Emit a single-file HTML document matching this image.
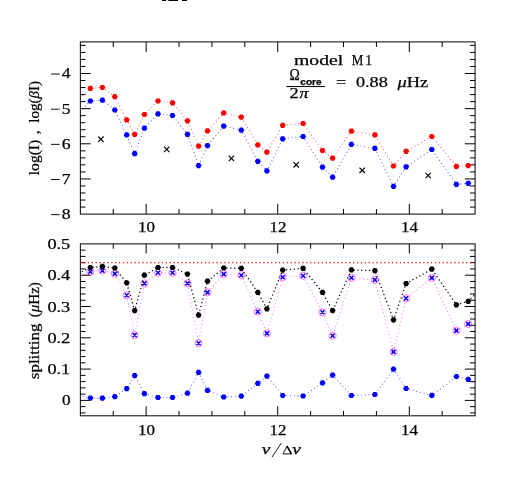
<!DOCTYPE html>
<html><head><meta charset="utf-8"><title>plot</title>
<style>html,body{margin:0;padding:0;background:#fff;}svg{display:block;}text{font-family:"Liberation Serif",serif;fill:#000;}</style></head><body>
<svg width="518" height="491" viewBox="0 0 518 491">
<rect width="518" height="491" fill="#fff"/>
<g fill="#000"><rect x="162" y="0" width="4.3" height="1"/><rect x="168.3" y="0" width="9.8" height="1"/><rect x="182" y="0" width="5" height="1"/></g>
<defs><clipPath id="c1"><rect x="80.35" y="41.90" width="394.75" height="172.20"/></clipPath><clipPath id="c2"><rect x="80.35" y="243.90" width="394.75" height="171.90"/></clipPath></defs>
<rect x="80.35" y="41.90" width="394.75" height="172.20" fill="none" stroke="#000" stroke-width="1"/>
<rect x="80.35" y="243.90" width="394.75" height="171.90" fill="none" stroke="#000" stroke-width="1"/>
<path d="M113.25 214.10V209.00M113.25 41.90V47.00M146.14 214.10V203.80M146.14 41.90V52.20M179.04 214.10V209.00M179.04 41.90V47.00M211.93 214.10V209.00M211.93 41.90V47.00M244.83 214.10V209.00M244.83 41.90V47.00M277.73 214.10V203.80M277.73 41.90V52.20M310.62 214.10V209.00M310.62 41.90V47.00M343.52 214.10V209.00M343.52 41.90V47.00M376.41 214.10V209.00M376.41 41.90V47.00M409.31 214.10V203.80M409.31 41.90V52.20M442.20 214.10V209.00M442.20 41.90V47.00M113.25 415.80V411.00M113.25 243.90V248.70M146.14 415.80V406.20M146.14 243.90V253.50M179.04 415.80V411.00M179.04 243.90V248.70M211.93 415.80V411.00M211.93 243.90V248.70M244.83 415.80V411.00M244.83 243.90V248.70M277.73 415.80V406.20M277.73 243.90V253.50M310.62 415.80V411.00M310.62 243.90V248.70M343.52 415.80V411.00M343.52 243.90V248.70M376.41 415.80V411.00M376.41 243.90V248.70M409.31 415.80V406.20M409.31 243.90V253.50M442.20 415.80V411.00M442.20 243.90V248.70M80.35 207.07H85.45M475.10 207.07H470.00M80.35 200.04H85.45M475.10 200.04H470.00M80.35 193.01H85.45M475.10 193.01H470.00M80.35 185.98H85.45M475.10 185.98H470.00M80.35 178.95H90.65M475.10 178.95H464.80M80.35 171.92H85.45M475.10 171.92H470.00M80.35 164.89H85.45M475.10 164.89H470.00M80.35 157.86H85.45M475.10 157.86H470.00M80.35 150.83H85.45M475.10 150.83H470.00M80.35 143.80H90.65M475.10 143.80H464.80M80.35 136.77H85.45M475.10 136.77H470.00M80.35 129.74H85.45M475.10 129.74H470.00M80.35 122.71H85.45M475.10 122.71H470.00M80.35 115.68H85.45M475.10 115.68H470.00M80.35 108.65H90.65M475.10 108.65H464.80M80.35 101.62H85.45M475.10 101.62H470.00M80.35 94.59H85.45M475.10 94.59H470.00M80.35 87.56H85.45M475.10 87.56H470.00M80.35 80.53H85.45M475.10 80.53H470.00M80.35 73.50H90.65M475.10 73.50H464.80M80.35 66.47H85.45M475.10 66.47H470.00M80.35 59.44H85.45M475.10 59.44H470.00M80.35 52.41H85.45M475.10 52.41H470.00M80.35 45.38H85.45M475.10 45.38H470.00M80.35 412.92H85.45M475.10 412.92H470.00M80.35 406.66H85.45M475.10 406.66H470.00M80.35 400.40H90.65M475.10 400.40H464.80M80.35 394.14H85.45M475.10 394.14H470.00M80.35 387.88H85.45M475.10 387.88H470.00M80.35 381.62H85.45M475.10 381.62H470.00M80.35 375.36H85.45M475.10 375.36H470.00M80.35 369.10H90.65M475.10 369.10H464.80M80.35 362.84H85.45M475.10 362.84H470.00M80.35 356.58H85.45M475.10 356.58H470.00M80.35 350.32H85.45M475.10 350.32H470.00M80.35 344.06H85.45M475.10 344.06H470.00M80.35 337.80H90.65M475.10 337.80H464.80M80.35 331.54H85.45M475.10 331.54H470.00M80.35 325.28H85.45M475.10 325.28H470.00M80.35 319.02H85.45M475.10 319.02H470.00M80.35 312.76H85.45M475.10 312.76H470.00M80.35 306.50H90.65M475.10 306.50H464.80M80.35 300.24H85.45M475.10 300.24H470.00M80.35 293.98H85.45M475.10 293.98H470.00M80.35 287.72H85.45M475.10 287.72H470.00M80.35 281.46H85.45M475.10 281.46H470.00M80.35 275.20H90.65M475.10 275.20H464.80M80.35 268.94H85.45M475.10 268.94H470.00M80.35 262.68H85.45M475.10 262.68H470.00M80.35 256.42H85.45M475.10 256.42H470.00M80.35 250.16H85.45M475.10 250.16H470.00" stroke="#000" stroke-width="1" fill="none"/>
<polyline clip-path="url(#c1)" points="72.0,106.0 90.4,88.3 102.4,87.5 114.8,96.7 126.7,119.8 134.7,134.3 144.4,114.5 158.0,101.0 172.5,102.8 187.5,120.8 198.6,146.1 207.5,130.9 223.7,112.9 241.3,117.1 257.8,144.9 266.9,152.1 282.7,125.3 303.1,123.5 322.5,150.5 332.6,158.2 351.4,131.2 374.9,134.9 393.5,166.0 406.1,151.3 431.8,136.5 456.4,166.4 468.2,165.6 485.0,159.6" fill="none" stroke="#f00" stroke-width="1.1" stroke-dasharray="0.01 3.75" stroke-opacity="0.68" stroke-linecap="round"/>
<polyline clip-path="url(#c1)" points="72.0,119.4 90.4,101.0 102.4,100.2 114.8,110.0 126.7,134.9 134.7,153.7 144.4,128.2 158.0,113.9 172.5,115.5 187.5,134.3 198.6,165.6 207.5,145.6 223.7,126.1 241.3,130.1 257.8,161.3 266.9,170.9 282.7,138.8 303.1,136.5 322.5,167.2 332.6,177.2 351.4,144.4 374.9,148.4 393.5,186.4 406.1,166.8 431.8,149.5 456.4,184.3 468.2,183.3 485.0,177.3" fill="none" stroke="#00f" stroke-width="1.1" stroke-dasharray="0.01 3.75" stroke-opacity="0.68" stroke-linecap="round"/>
<g fill="#f00"><path d="M93.40 88.30L91.90 90.90L88.90 90.90L87.40 88.30L88.90 85.70L91.90 85.70Z"/><path d="M105.40 87.50L103.90 90.10L100.90 90.10L99.40 87.50L100.90 84.90L103.90 84.90Z"/><path d="M117.80 96.70L116.30 99.30L113.30 99.30L111.80 96.70L113.30 94.10L116.30 94.10Z"/><path d="M129.70 119.80L128.20 122.40L125.20 122.40L123.70 119.80L125.20 117.20L128.20 117.20Z"/><path d="M137.70 134.30L136.20 136.90L133.20 136.90L131.70 134.30L133.20 131.70L136.20 131.70Z"/><path d="M147.40 114.50L145.90 117.10L142.90 117.10L141.40 114.50L142.90 111.90L145.90 111.90Z"/><path d="M161.00 101.00L159.50 103.60L156.50 103.60L155.00 101.00L156.50 98.40L159.50 98.40Z"/><path d="M175.50 102.80L174.00 105.40L171.00 105.40L169.50 102.80L171.00 100.20L174.00 100.20Z"/><path d="M190.50 120.80L189.00 123.40L186.00 123.40L184.50 120.80L186.00 118.20L189.00 118.20Z"/><path d="M201.60 146.10L200.10 148.70L197.10 148.70L195.60 146.10L197.10 143.50L200.10 143.50Z"/><path d="M210.50 130.90L209.00 133.50L206.00 133.50L204.50 130.90L206.00 128.30L209.00 128.30Z"/><path d="M226.70 112.90L225.20 115.50L222.20 115.50L220.70 112.90L222.20 110.30L225.20 110.30Z"/><path d="M244.30 117.10L242.80 119.70L239.80 119.70L238.30 117.10L239.80 114.50L242.80 114.50Z"/><path d="M260.80 144.90L259.30 147.50L256.30 147.50L254.80 144.90L256.30 142.30L259.30 142.30Z"/><path d="M269.90 152.10L268.40 154.70L265.40 154.70L263.90 152.10L265.40 149.50L268.40 149.50Z"/><path d="M285.70 125.30L284.20 127.90L281.20 127.90L279.70 125.30L281.20 122.70L284.20 122.70Z"/><path d="M306.10 123.50L304.60 126.10L301.60 126.10L300.10 123.50L301.60 120.90L304.60 120.90Z"/><path d="M325.50 150.50L324.00 153.10L321.00 153.10L319.50 150.50L321.00 147.90L324.00 147.90Z"/><path d="M335.60 158.20L334.10 160.80L331.10 160.80L329.60 158.20L331.10 155.60L334.10 155.60Z"/><path d="M354.40 131.20L352.90 133.80L349.90 133.80L348.40 131.20L349.90 128.60L352.90 128.60Z"/><path d="M377.90 134.90L376.40 137.50L373.40 137.50L371.90 134.90L373.40 132.30L376.40 132.30Z"/><path d="M396.50 166.00L395.00 168.60L392.00 168.60L390.50 166.00L392.00 163.40L395.00 163.40Z"/><path d="M409.10 151.30L407.60 153.90L404.60 153.90L403.10 151.30L404.60 148.70L407.60 148.70Z"/><path d="M434.80 136.50L433.30 139.10L430.30 139.10L428.80 136.50L430.30 133.90L433.30 133.90Z"/><path d="M459.40 166.40L457.90 169.00L454.90 169.00L453.40 166.40L454.90 163.80L457.90 163.80Z"/><path d="M471.20 165.60L469.70 168.20L466.70 168.20L465.20 165.60L466.70 163.00L469.70 163.00Z"/></g>
<g fill="#00f"><path d="M93.40 101.00L91.90 103.60L88.90 103.60L87.40 101.00L88.90 98.40L91.90 98.40Z"/><path d="M105.40 100.20L103.90 102.80L100.90 102.80L99.40 100.20L100.90 97.60L103.90 97.60Z"/><path d="M117.80 110.00L116.30 112.60L113.30 112.60L111.80 110.00L113.30 107.40L116.30 107.40Z"/><path d="M129.70 134.90L128.20 137.50L125.20 137.50L123.70 134.90L125.20 132.30L128.20 132.30Z"/><path d="M137.70 153.70L136.20 156.30L133.20 156.30L131.70 153.70L133.20 151.10L136.20 151.10Z"/><path d="M147.40 128.20L145.90 130.80L142.90 130.80L141.40 128.20L142.90 125.60L145.90 125.60Z"/><path d="M161.00 113.90L159.50 116.50L156.50 116.50L155.00 113.90L156.50 111.30L159.50 111.30Z"/><path d="M175.50 115.50L174.00 118.10L171.00 118.10L169.50 115.50L171.00 112.90L174.00 112.90Z"/><path d="M190.50 134.30L189.00 136.90L186.00 136.90L184.50 134.30L186.00 131.70L189.00 131.70Z"/><path d="M201.60 165.60L200.10 168.20L197.10 168.20L195.60 165.60L197.10 163.00L200.10 163.00Z"/><path d="M210.50 145.60L209.00 148.20L206.00 148.20L204.50 145.60L206.00 143.00L209.00 143.00Z"/><path d="M226.70 126.10L225.20 128.70L222.20 128.70L220.70 126.10L222.20 123.50L225.20 123.50Z"/><path d="M244.30 130.10L242.80 132.70L239.80 132.70L238.30 130.10L239.80 127.50L242.80 127.50Z"/><path d="M260.80 161.30L259.30 163.90L256.30 163.90L254.80 161.30L256.30 158.70L259.30 158.70Z"/><path d="M269.90 170.90L268.40 173.50L265.40 173.50L263.90 170.90L265.40 168.30L268.40 168.30Z"/><path d="M285.70 138.80L284.20 141.40L281.20 141.40L279.70 138.80L281.20 136.20L284.20 136.20Z"/><path d="M306.10 136.50L304.60 139.10L301.60 139.10L300.10 136.50L301.60 133.90L304.60 133.90Z"/><path d="M325.50 167.20L324.00 169.80L321.00 169.80L319.50 167.20L321.00 164.60L324.00 164.60Z"/><path d="M335.60 177.20L334.10 179.80L331.10 179.80L329.60 177.20L331.10 174.60L334.10 174.60Z"/><path d="M354.40 144.40L352.90 147.00L349.90 147.00L348.40 144.40L349.90 141.80L352.90 141.80Z"/><path d="M377.90 148.40L376.40 151.00L373.40 151.00L371.90 148.40L373.40 145.80L376.40 145.80Z"/><path d="M396.50 186.40L395.00 189.00L392.00 189.00L390.50 186.40L392.00 183.80L395.00 183.80Z"/><path d="M409.10 166.80L407.60 169.40L404.60 169.40L403.10 166.80L404.60 164.20L407.60 164.20Z"/><path d="M434.80 149.50L433.30 152.10L430.30 152.10L428.80 149.50L430.30 146.90L433.30 146.90Z"/><path d="M459.40 184.30L457.90 186.90L454.90 186.90L453.40 184.30L454.90 181.70L457.90 181.70Z"/><path d="M471.20 183.30L469.70 185.90L466.70 185.90L465.20 183.30L466.70 180.70L469.70 180.70Z"/></g>
<path d="M98.2 136.5L103.6 141.9M98.2 141.9L103.6 136.5M164.0 146.7L169.4 152.1M164.0 152.1L169.4 146.7M228.7 155.7L234.1 161.1M228.7 161.1L234.1 155.7M293.5 162.1L298.9 167.5M293.5 167.5L298.9 162.1M359.5 167.6L364.9 173.0M359.5 173.0L364.9 167.6M425.5 172.8L430.9 178.2M425.5 178.2L430.9 172.8" stroke="#000" stroke-width="1.2" fill="none"/>
<line x1="80.0" y1="262.6" x2="475.1" y2="262.6" stroke="#f00" stroke-width="1.2" stroke-opacity="0.95" stroke-dasharray="1.25 2.65"/>
<polyline clip-path="url(#c2)" points="72.0,280.7 90.4,271.7 102.4,270.7 114.8,273.6 126.7,295.3 134.7,335.1 144.4,283.4 158.0,272.8 172.5,272.8 187.5,283.4 198.6,343.2 207.5,292.4 223.7,274.1 241.3,275.2 257.8,311.7 266.9,333.4 282.7,277.3 303.1,275.7 322.5,312.3 332.6,335.8 351.4,277.8 374.9,279.9 393.5,351.9 406.1,298.4 431.8,277.9 456.4,330.6 468.2,323.9 485.0,295.7" fill="none" stroke="#f0f" stroke-width="1.1" stroke-dasharray="0.01 3.75" stroke-opacity="0.6" stroke-linecap="round"/>
<polyline clip-path="url(#c2)" points="72.0,394.1 90.4,398.0 102.4,398.2 114.8,396.7 126.7,388.7 134.7,375.6 144.4,393.7 158.0,397.5 172.5,397.5 187.5,393.2 198.6,372.4 207.5,390.4 223.7,397.0 241.3,396.2 257.8,383.4 266.9,376.1 282.7,395.5 303.1,396.0 322.5,382.9 332.6,375.1 351.4,395.5 374.9,394.5 393.5,369.2 406.1,388.5 431.8,395.4 456.4,376.5 468.2,379.3 485.0,389.4" fill="none" stroke="#00f" stroke-width="1.1" stroke-dasharray="0.01 3.75" stroke-opacity="0.68" stroke-linecap="round"/>
<g fill="#00f"><path d="M93.40 398.00L91.90 400.60L88.90 400.60L87.40 398.00L88.90 395.40L91.90 395.40Z"/><path d="M105.40 398.20L103.90 400.80L100.90 400.80L99.40 398.20L100.90 395.60L103.90 395.60Z"/><path d="M117.80 396.70L116.30 399.30L113.30 399.30L111.80 396.70L113.30 394.10L116.30 394.10Z"/><path d="M129.70 388.70L128.20 391.30L125.20 391.30L123.70 388.70L125.20 386.10L128.20 386.10Z"/><path d="M137.70 375.60L136.20 378.20L133.20 378.20L131.70 375.60L133.20 373.00L136.20 373.00Z"/><path d="M147.40 393.70L145.90 396.30L142.90 396.30L141.40 393.70L142.90 391.10L145.90 391.10Z"/><path d="M161.00 397.50L159.50 400.10L156.50 400.10L155.00 397.50L156.50 394.90L159.50 394.90Z"/><path d="M175.50 397.50L174.00 400.10L171.00 400.10L169.50 397.50L171.00 394.90L174.00 394.90Z"/><path d="M190.50 393.20L189.00 395.80L186.00 395.80L184.50 393.20L186.00 390.60L189.00 390.60Z"/><path d="M201.60 372.40L200.10 375.00L197.10 375.00L195.60 372.40L197.10 369.80L200.10 369.80Z"/><path d="M210.50 390.40L209.00 393.00L206.00 393.00L204.50 390.40L206.00 387.80L209.00 387.80Z"/><path d="M226.70 397.00L225.20 399.60L222.20 399.60L220.70 397.00L222.20 394.40L225.20 394.40Z"/><path d="M244.30 396.20L242.80 398.80L239.80 398.80L238.30 396.20L239.80 393.60L242.80 393.60Z"/><path d="M260.80 383.40L259.30 386.00L256.30 386.00L254.80 383.40L256.30 380.80L259.30 380.80Z"/><path d="M269.90 376.10L268.40 378.70L265.40 378.70L263.90 376.10L265.40 373.50L268.40 373.50Z"/><path d="M285.70 395.50L284.20 398.10L281.20 398.10L279.70 395.50L281.20 392.90L284.20 392.90Z"/><path d="M306.10 396.00L304.60 398.60L301.60 398.60L300.10 396.00L301.60 393.40L304.60 393.40Z"/><path d="M325.50 382.90L324.00 385.50L321.00 385.50L319.50 382.90L321.00 380.30L324.00 380.30Z"/><path d="M335.60 375.10L334.10 377.70L331.10 377.70L329.60 375.10L331.10 372.50L334.10 372.50Z"/><path d="M354.40 395.50L352.90 398.10L349.90 398.10L348.40 395.50L349.90 392.90L352.90 392.90Z"/><path d="M377.90 394.50L376.40 397.10L373.40 397.10L371.90 394.50L373.40 391.90L376.40 391.90Z"/><path d="M396.50 369.20L395.00 371.80L392.00 371.80L390.50 369.20L392.00 366.60L395.00 366.60Z"/><path d="M409.10 388.50L407.60 391.10L404.60 391.10L403.10 388.50L404.60 385.90L407.60 385.90Z"/><path d="M434.80 395.40L433.30 398.00L430.30 398.00L428.80 395.40L430.30 392.80L433.30 392.80Z"/><path d="M459.40 376.50L457.90 379.10L454.90 379.10L453.40 376.50L454.90 373.90L457.90 373.90Z"/><path d="M471.20 379.30L469.70 381.90L466.70 381.90L465.20 379.30L466.70 376.70L469.70 376.70Z"/></g>
<g fill="none" stroke="#f0f" stroke-width="0.7" stroke-opacity="0.75"><circle cx="90.4" cy="271.7" r="3.6"/><circle cx="102.4" cy="270.7" r="3.6"/><circle cx="114.8" cy="273.6" r="3.6"/><circle cx="126.7" cy="295.3" r="3.6"/><circle cx="134.7" cy="335.1" r="3.6"/><circle cx="144.4" cy="283.4" r="3.6"/><circle cx="158.0" cy="272.8" r="3.6"/><circle cx="172.5" cy="272.8" r="3.6"/><circle cx="187.5" cy="283.4" r="3.6"/><circle cx="198.6" cy="343.2" r="3.6"/><circle cx="207.5" cy="292.4" r="3.6"/><circle cx="223.7" cy="274.1" r="3.6"/><circle cx="241.3" cy="275.2" r="3.6"/><circle cx="257.8" cy="311.7" r="3.6"/><circle cx="266.9" cy="333.4" r="3.6"/><circle cx="282.7" cy="277.3" r="3.6"/><circle cx="303.1" cy="275.7" r="3.6"/><circle cx="322.5" cy="312.3" r="3.6"/><circle cx="332.6" cy="335.8" r="3.6"/><circle cx="351.4" cy="277.8" r="3.6"/><circle cx="374.9" cy="279.9" r="3.6"/><circle cx="393.5" cy="351.9" r="3.6"/><circle cx="406.1" cy="298.4" r="3.6"/><circle cx="431.8" cy="277.9" r="3.6"/><circle cx="456.4" cy="330.6" r="3.6"/><circle cx="468.2" cy="323.9" r="3.6"/></g>
<path d="M88.4 269.7L92.4 273.7M88.4 273.7L92.4 269.7M100.4 268.7L104.4 272.7M100.4 272.7L104.4 268.7M112.8 271.6L116.8 275.6M112.8 275.6L116.8 271.6M124.7 293.3L128.7 297.3M124.7 297.3L128.7 293.3M132.7 333.1L136.7 337.1M132.7 337.1L136.7 333.1M142.4 281.4L146.4 285.4M142.4 285.4L146.4 281.4M156.0 270.8L160.0 274.8M156.0 274.8L160.0 270.8M170.5 270.8L174.5 274.8M170.5 274.8L174.5 270.8M185.5 281.4L189.5 285.4M185.5 285.4L189.5 281.4M196.6 341.2L200.6 345.2M196.6 345.2L200.6 341.2M205.5 290.4L209.5 294.4M205.5 294.4L209.5 290.4M221.7 272.1L225.7 276.1M221.7 276.1L225.7 272.1M239.3 273.2L243.3 277.2M239.3 277.2L243.3 273.2M255.8 309.7L259.8 313.7M255.8 313.7L259.8 309.7M264.9 331.4L268.9 335.4M264.9 335.4L268.9 331.4M280.7 275.3L284.7 279.3M280.7 279.3L284.7 275.3M301.1 273.7L305.1 277.7M301.1 277.7L305.1 273.7M320.5 310.3L324.5 314.3M320.5 314.3L324.5 310.3M330.6 333.8L334.6 337.8M330.6 337.8L334.6 333.8M349.4 275.8L353.4 279.8M349.4 279.8L353.4 275.8M372.9 277.9L376.9 281.9M372.9 281.9L376.9 277.9M391.5 349.9L395.5 353.9M391.5 353.9L395.5 349.9M404.1 296.4L408.1 300.4M404.1 300.4L408.1 296.4M429.8 275.9L433.8 279.9M429.8 279.9L433.8 275.9M454.4 328.6L458.4 332.6M454.4 332.6L458.4 328.6M466.2 321.9L470.2 325.9M466.2 325.9L470.2 321.9" stroke="#00f" stroke-width="1.5" fill="none"/>
<polyline clip-path="url(#c2)" points="72.0,276.7 90.4,267.5 102.4,266.4 114.8,268.0 126.7,282.8 134.7,310.6 144.4,275.2 158.0,267.5 172.5,267.5 187.5,274.1 198.6,315.1 207.5,281.2 223.7,268.0 241.3,268.3 257.8,292.4 266.9,308.8 282.7,270.1 303.1,268.3 322.5,292.4 332.6,310.6 351.4,269.9 374.9,270.7 393.5,319.8 406.1,283.6 431.8,269.1 456.4,304.8 468.2,301.3 485.0,284.5" fill="none" stroke="#000" stroke-width="1.4" stroke-dasharray="0.01 3.85" stroke-opacity="1" stroke-linecap="round"/>
<g fill="#000"><path d="M93.40 267.50L91.90 270.10L88.90 270.10L87.40 267.50L88.90 264.90L91.90 264.90Z"/><path d="M105.40 266.40L103.90 269.00L100.90 269.00L99.40 266.40L100.90 263.80L103.90 263.80Z"/><path d="M117.80 268.00L116.30 270.60L113.30 270.60L111.80 268.00L113.30 265.40L116.30 265.40Z"/><path d="M129.70 282.80L128.20 285.40L125.20 285.40L123.70 282.80L125.20 280.20L128.20 280.20Z"/><path d="M137.70 310.60L136.20 313.20L133.20 313.20L131.70 310.60L133.20 308.00L136.20 308.00Z"/><path d="M147.40 275.20L145.90 277.80L142.90 277.80L141.40 275.20L142.90 272.60L145.90 272.60Z"/><path d="M161.00 267.50L159.50 270.10L156.50 270.10L155.00 267.50L156.50 264.90L159.50 264.90Z"/><path d="M175.50 267.50L174.00 270.10L171.00 270.10L169.50 267.50L171.00 264.90L174.00 264.90Z"/><path d="M190.50 274.10L189.00 276.70L186.00 276.70L184.50 274.10L186.00 271.50L189.00 271.50Z"/><path d="M201.60 315.10L200.10 317.70L197.10 317.70L195.60 315.10L197.10 312.50L200.10 312.50Z"/><path d="M210.50 281.20L209.00 283.80L206.00 283.80L204.50 281.20L206.00 278.60L209.00 278.60Z"/><path d="M226.70 268.00L225.20 270.60L222.20 270.60L220.70 268.00L222.20 265.40L225.20 265.40Z"/><path d="M244.30 268.30L242.80 270.90L239.80 270.90L238.30 268.30L239.80 265.70L242.80 265.70Z"/><path d="M260.80 292.40L259.30 295.00L256.30 295.00L254.80 292.40L256.30 289.80L259.30 289.80Z"/><path d="M269.90 308.80L268.40 311.40L265.40 311.40L263.90 308.80L265.40 306.20L268.40 306.20Z"/><path d="M285.70 270.10L284.20 272.70L281.20 272.70L279.70 270.10L281.20 267.50L284.20 267.50Z"/><path d="M306.10 268.30L304.60 270.90L301.60 270.90L300.10 268.30L301.60 265.70L304.60 265.70Z"/><path d="M325.50 292.40L324.00 295.00L321.00 295.00L319.50 292.40L321.00 289.80L324.00 289.80Z"/><path d="M335.60 310.60L334.10 313.20L331.10 313.20L329.60 310.60L331.10 308.00L334.10 308.00Z"/><path d="M354.40 269.90L352.90 272.50L349.90 272.50L348.40 269.90L349.90 267.30L352.90 267.30Z"/><path d="M377.90 270.70L376.40 273.30L373.40 273.30L371.90 270.70L373.40 268.10L376.40 268.10Z"/><path d="M396.50 319.80L395.00 322.40L392.00 322.40L390.50 319.80L392.00 317.20L395.00 317.20Z"/><path d="M409.10 283.60L407.60 286.20L404.60 286.20L403.10 283.60L404.60 281.00L407.60 281.00Z"/><path d="M434.80 269.10L433.30 271.70L430.30 271.70L428.80 269.10L430.30 266.50L433.30 266.50Z"/><path d="M459.40 304.80L457.90 307.40L454.90 307.40L453.40 304.80L454.90 302.20L457.90 302.20Z"/><path d="M471.20 301.30L469.70 303.90L466.70 303.90L465.20 301.30L466.70 298.70L469.70 298.70Z"/></g>
<g style="will-change:transform" stroke="#000" stroke-width="0.25">
<text x="137.9" y="232.2" font-size="15.6" textLength="17.0" lengthAdjust="spacingAndGlyphs">10</text>
<text x="137.9" y="434.7" font-size="15.6" textLength="17.0" lengthAdjust="spacingAndGlyphs">10</text>
<text x="269.5" y="232.2" font-size="15.6" textLength="17.0" lengthAdjust="spacingAndGlyphs">12</text>
<text x="269.5" y="434.7" font-size="15.6" textLength="17.0" lengthAdjust="spacingAndGlyphs">12</text>
<text x="401.1" y="232.2" font-size="15.6" textLength="17.0" lengthAdjust="spacingAndGlyphs">14</text>
<text x="401.1" y="434.7" font-size="15.6" textLength="17.0" lengthAdjust="spacingAndGlyphs">14</text>
<line x1="51.0" y1="74.05" x2="59.6" y2="74.05" stroke="#000" stroke-width="0.95"/>
<text x="61.7" y="78.3" font-size="15.5" textLength="8.8" lengthAdjust="spacingAndGlyphs">4</text>
<line x1="51.0" y1="109.20" x2="59.6" y2="109.20" stroke="#000" stroke-width="0.95"/>
<text x="61.7" y="113.5" font-size="15.5" textLength="8.8" lengthAdjust="spacingAndGlyphs">5</text>
<line x1="51.0" y1="144.35" x2="59.6" y2="144.35" stroke="#000" stroke-width="0.95"/>
<text x="61.7" y="148.6" font-size="15.5" textLength="8.8" lengthAdjust="spacingAndGlyphs">6</text>
<line x1="51.0" y1="179.50" x2="59.6" y2="179.50" stroke="#000" stroke-width="0.95"/>
<text x="61.7" y="183.8" font-size="15.5" textLength="8.8" lengthAdjust="spacingAndGlyphs">7</text>
<line x1="51.0" y1="214.65" x2="59.6" y2="214.65" stroke="#000" stroke-width="0.95"/>
<text x="61.7" y="218.9" font-size="15.5" textLength="8.8" lengthAdjust="spacingAndGlyphs">8</text>
<text x="62.0" y="405.4" font-size="15.6" textLength="8.6" lengthAdjust="spacingAndGlyphs">0</text>
<text x="47.4" y="374.1" font-size="15.6" textLength="22.9" lengthAdjust="spacingAndGlyphs">0.1</text>
<text x="47.4" y="342.8" font-size="15.6" textLength="22.9" lengthAdjust="spacingAndGlyphs">0.2</text>
<text x="47.4" y="311.5" font-size="15.6" textLength="22.9" lengthAdjust="spacingAndGlyphs">0.3</text>
<text x="47.4" y="280.2" font-size="15.6" textLength="22.9" lengthAdjust="spacingAndGlyphs">0.4</text>
<text x="47.4" y="248.9" font-size="15.6" textLength="22.9" lengthAdjust="spacingAndGlyphs">0.5</text>
<text transform="translate(39.2,175.2) rotate(-90)" font-size="15.6" textLength="35.4" lengthAdjust="spacingAndGlyphs">log(I)</text>
<text transform="translate(39.2,134.3) rotate(-90)" font-size="15.6" textLength="3.9" lengthAdjust="spacingAndGlyphs">,</text>
<text transform="translate(39.2,122.8) rotate(-90)" font-size="15.6" textLength="41.9" lengthAdjust="spacingAndGlyphs">log(<tspan font-style="italic">β</tspan>I)</text>
<text transform="translate(39.4,379.2) rotate(-90)" font-size="15.6" textLength="55.6" lengthAdjust="spacingAndGlyphs">splitting</text>
<text transform="translate(39.4,317.3) rotate(-90)" font-size="15.6" textLength="35.2" lengthAdjust="spacingAndGlyphs">(<tspan font-style="italic">μ</tspan>Hz)</text>
<text x="261.8" y="454.3" font-size="14" font-style="italic" textLength="8.6" lengthAdjust="spacingAndGlyphs">ν</text>
<text x="292.2" y="454.3" font-size="14" font-style="italic" textLength="8.6" lengthAdjust="spacingAndGlyphs">ν</text>
<path d="M272.0 457.2L281.4 442.9" stroke="#000" stroke-width="0.9" fill="none"/>
<path d="M282.9 453.9L287.0 446.2L291.4 453.9Z" stroke="#000" stroke-width="0.9" fill="none" stroke-linejoin="miter"/><path d="M287.0 446.2L291.4 453.9" stroke="#000" stroke-width="1.5" fill="none"/>
<text x="294.0" y="64.5" font-size="15.6" textLength="49.2" lengthAdjust="spacingAndGlyphs">model</text>
<text x="351.8" y="64.5" font-size="15.6" textLength="11.6" lengthAdjust="spacingAndGlyphs">M</text>
<text x="365.3" y="64.5" font-size="15.6" textLength="6.9" lengthAdjust="spacingAndGlyphs">1</text>
<text x="289.5" y="79.9" font-size="16.8" textLength="10.3" lengthAdjust="spacingAndGlyphs">Ω</text>
<text x="300.3" y="84.8" font-size="8.2" font-weight="bold" style="font-family:'Liberation Sans',sans-serif" textLength="21.2" lengthAdjust="spacingAndGlyphs">core</text>
<line x1="286.3" y1="86.55" x2="325.0" y2="86.55" stroke="#000" stroke-width="1"/>
<text x="289.6" y="97.8" font-size="15.6" textLength="9.2" lengthAdjust="spacingAndGlyphs">2</text>
<text x="299.6" y="97.75" font-size="15.6" font-style="italic" textLength="9.0" lengthAdjust="spacingAndGlyphs">π</text>
<text x="335.9" y="87.2" font-size="15.6" textLength="10.2" lengthAdjust="spacingAndGlyphs">=</text>
<text x="355.9" y="87.2" font-size="15.6" textLength="31.9" lengthAdjust="spacingAndGlyphs">0.88</text>
<text x="397.5" y="87.2" font-size="15.6" textLength="30.6" lengthAdjust="spacingAndGlyphs"><tspan font-style="italic">μ</tspan>Hz</text>
</g>
</svg></body></html>
